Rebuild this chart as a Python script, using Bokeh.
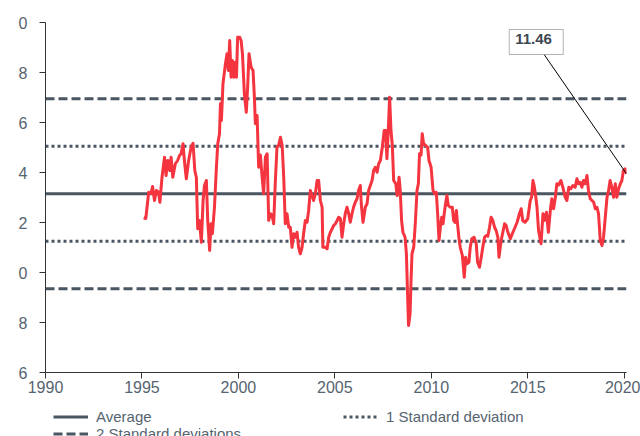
from bokeh.plotting import figure
from bokeh.layouts import column
from bokeh.models import Range1d, FixedTicker, Legend, LegendItem, Label, BoxAnnotation
from bokeh.embed import file_html
from bokeh.resources import INLINE

# ---------------- data ----------------
years = [
    1995.09, 1995.20, 1995.35, 1995.47, 1995.55, 1995.65, 1995.75, 1995.86, 1995.93,
    1996.04, 1996.17, 1996.25, 1996.34, 1996.44, 1996.51, 1996.60, 1996.73, 1996.85, 1996.95,
    1997.03, 1997.13, 1997.20, 1997.30, 1997.42, 1997.55, 1997.65, 1997.74, 1997.82, 1997.89, 1997.98,
    1998.08, 1998.17, 1998.24, 1998.34, 1998.41, 1998.51, 1998.58, 1998.65, 1998.76, 1998.86, 1998.93,
    1999.02, 1999.07, 1999.12, 1999.20, 1999.33, 1999.41, 1999.48, 1999.55, 1999.62, 1999.69, 1999.76,
    1999.84, 1999.90, 1999.96, 2000.07, 2000.14, 2000.21, 2000.31, 2000.41, 2000.48, 2000.55, 2000.66,
    2000.76, 2000.83, 2000.88, 2000.97, 2001.05, 2001.14, 2001.23, 2001.31, 2001.40, 2001.49, 2001.57,
    2001.66, 2001.74, 2001.83, 2001.91, 2002.00, 2002.09, 2002.18, 2002.27, 2002.35, 2002.43, 2002.52,
    2002.61, 2002.69, 2002.78, 2002.87, 2002.95, 2003.04, 2003.12, 2003.21, 2003.30, 2003.38, 2003.47,
    2003.56, 2003.64, 2003.73, 2003.82, 2003.90, 2003.99, 2004.08, 2004.16, 2004.25, 2004.34, 2004.38,
    2004.51, 2004.60, 2004.68, 2004.77, 2004.86, 2004.94, 2005.03, 2005.12, 2005.20, 2005.29, 2005.37,
    2005.46, 2005.54, 2005.63, 2005.72, 2005.80, 2005.89, 2005.97, 2006.06, 2006.15, 2006.23, 2006.32,
    2006.37, 2006.46, 2006.58, 2006.67, 2006.75, 2006.84, 2006.93, 2007.01, 2007.10, 2007.19, 2007.27,
    2007.36, 2007.46, 2007.56, 2007.63, 2007.70, 2007.77, 2007.84, 2007.91, 2007.98, 2008.05, 2008.16,
    2008.23, 2008.33, 2008.39, 2008.46, 2008.53, 2008.64, 2008.71, 2008.77, 2008.82, 2008.90, 2008.95,
    2009.00, 2009.09, 2009.17, 2009.26, 2009.33, 2009.39, 2009.47, 2009.53, 2009.60, 2009.71, 2009.81,
    2009.88, 2009.99, 2010.09, 2010.18, 2010.26, 2010.33, 2010.40, 2010.47, 2010.54, 2010.61, 2010.67,
    2010.74, 2010.81, 2010.88, 2010.98, 2011.09, 2011.16, 2011.23, 2011.30, 2011.36, 2011.43, 2011.50,
    2011.61, 2011.71, 2011.78, 2011.85, 2011.95, 2012.02, 2012.10, 2012.22, 2012.33, 2012.40, 2012.50,
    2012.59, 2012.67, 2012.76, 2012.85, 2012.93, 2013.02, 2013.10, 2013.19, 2013.28, 2013.36, 2013.45,
    2013.51, 2013.62, 2013.71, 2013.80, 2013.88, 2013.97, 2014.10, 2014.23, 2014.31, 2014.45, 2014.57,
    2014.66, 2014.74, 2014.86, 2015.00, 2015.13, 2015.20, 2015.27, 2015.33, 2015.42, 2015.48, 2015.56,
    2015.69, 2015.79, 2015.86, 2015.97, 2016.07, 2016.17, 2016.25, 2016.34, 2016.42, 2016.51, 2016.60,
    2016.72, 2016.82, 2016.94, 2017.03, 2017.13, 2017.23, 2017.34, 2017.46, 2017.55, 2017.63, 2017.72,
    2017.81, 2017.89, 2017.98, 2018.07, 2018.15, 2018.24, 2018.33, 2018.42, 2018.50, 2018.59, 2018.67,
    2018.76, 2018.85, 2018.93, 2019.02, 2019.11, 2019.19, 2019.27, 2019.36, 2019.45, 2019.54, 2019.62,
    2019.71, 2019.80, 2019.88, 2019.96, 2020.05, 2020.12,
]
values = [
    12.19, 12.16, 13.21, 13.16, 13.44, 12.88, 13.28, 13.21, 12.81,
    13.81, 14.61, 13.88, 14.48, 14.08, 14.61, 13.81, 14.35, 14.48, 14.68,
    14.75, 15.15, 14.48, 13.75, 14.48, 15.01, 15.17, 14.08, 13.81, 11.75, 12.08,
    11.21, 12.88, 13.48, 13.68, 12.08, 10.88, 11.95, 11.55, 12.61, 14.21, 15.15,
    15.55, 16.75, 16.08, 17.55, 18.35, 18.75, 18.08, 19.28, 17.81, 18.48, 17.81,
    18.41, 17.81, 19.41, 19.41, 19.28, 18.75, 17.15, 16.41, 17.41, 18.75, 18.21,
    18.08, 17.00, 15.95, 16.28, 14.21, 14.70, 13.81, 13.15, 14.61, 14.75, 12.08,
    12.35, 12.30, 11.95, 13.55, 15.01, 15.10, 15.41, 15.08, 13.81, 11.95, 12.35,
    11.81, 11.81, 11.01, 11.55, 11.41, 11.61, 11.01, 10.75, 11.01, 11.55, 12.08,
    12.01, 12.48, 13.28, 13.08, 12.88, 13.15, 13.68, 13.68, 12.88, 12.61, 11.01,
    11.01, 10.95, 11.41, 11.61, 11.75, 11.88, 11.95, 12.08, 12.21, 12.15, 11.41,
    11.95, 12.35, 12.61, 12.35, 12.01, 12.35, 12.61, 12.81, 12.95, 13.28, 13.48,
    12.75, 12.01, 12.61, 12.75, 13.28, 13.48, 13.68, 14.08, 14.21, 14.01, 14.35,
    14.48, 15.01, 15.68, 15.68, 14.55, 15.68, 17.01, 15.68, 15.08, 13.68, 13.55,
    13.08, 13.81, 13.28, 12.08, 11.61, 11.41, 10.75, 9.15, 7.88, 8.35, 9.68,
    10.75, 11.01, 11.95, 13.28, 13.55, 14.75, 14.70, 15.55, 15.15, 15.08, 15.01,
    14.48, 14.21, 13.28, 13.15, 13.21, 12.35, 11.28, 11.81, 12.21, 11.95, 12.35,
    12.75, 13.08, 12.68, 12.61, 12.61, 12.08, 12.00, 12.48, 11.95, 11.41, 11.01,
    10.68, 9.81, 10.61, 10.35, 10.41, 11.01, 11.35, 11.41, 11.15, 10.41, 10.21,
    10.61, 11.01, 11.41, 11.48, 11.45, 11.81, 12.21, 12.08, 11.81, 11.68, 11.41,
    10.61, 11.28, 11.61, 11.95, 11.88, 11.61, 11.35, 11.61, 11.75, 12.01, 12.35,
    12.55, 12.08, 12.01, 12.15, 12.88, 13.01, 13.68, 13.48, 13.01, 12.61, 11.68,
    11.15, 12.35, 12.08, 12.41, 11.61, 12.48, 12.95, 12.55, 12.95, 13.55, 13.50,
    13.68, 13.41, 13.01, 12.88, 13.41, 13.35, 13.48, 13.41, 13.75, 13.55, 13.61,
    13.41, 13.68, 13.55, 13.88, 13.28, 12.95, 12.88, 12.81, 12.55, 12.61, 12.35,
    11.28, 11.08, 11.41, 12.21, 13.01, 13.28, 13.68, 13.41, 13.01, 13.55, 13.01,
    13.35, 13.55, 13.68, 14.08, 14.15, 13.95,
]
average = 13.15
std_dev = 1.9
x_ticks = [1990, 1995, 2000, 2005, 2010, 2015, 2020]
y_ticks = [6, 8, 10, 12, 14, 16, 18, 20]
y_tick_labels = ["6", "8", "0", "2", "4", "6", "8", "0"]
callout_text = "11.46"
legend_labels = ["Average", "1 Standard deviation", "2 Standard deviations"]

# ---------------- styling ----------------
FONT = "Liberation Sans"
TXT = "#566470"
REF = "#4a5661"
RED = "#f4343e"
X0, X1 = 1990, 2020.12
STYLE_AVG = dict(line_color=REF, line_width=3)
STYLE_SD1 = dict(line_color=REF, line_width=3, line_dash="3 3")
STYLE_SD2 = dict(line_color=REF, line_width=3, line_dash="9 4")

p = figure(width=640, height=402, output_backend="svg", toolbar_location=None,
           x_range=Range1d(X0, X1), y_range=Range1d(6, 20),
           min_border_left=45, min_border_right=14, min_border_top=22, min_border_bottom=30)
p.xgrid.visible = False
p.ygrid.visible = False
p.outline_line_color = None

for ax in (p.xaxis[0], p.yaxis[0]):
    ax.axis_line_color = "#333333"
    ax.axis_line_width = 1
    ax.major_tick_line_color = "#333333"
    ax.minor_tick_line_color = None
    ax.major_tick_in = 0
    ax.major_tick_out = 6
    ax.major_label_text_font = FONT
    ax.major_label_text_font_size = "16px"
    ax.major_label_text_color = TXT

p.xaxis.ticker = FixedTicker(ticks=x_ticks)
p.xaxis.major_label_standoff = 2
p.yaxis.ticker = FixedTicker(ticks=y_ticks)
p.yaxis.major_label_overrides = {t: l for t, l in zip(y_ticks, y_tick_labels)}
p.yaxis.major_label_standoff = 12

# reference lines
p.line([X0, X1], [average, average], **STYLE_AVG)
p.line([X0, X1], [average + std_dev] * 2, **STYLE_SD1)
p.line([X0, X1], [average - std_dev] * 2, **STYLE_SD1)
p.line([X0, X1], [average + 2 * std_dev] * 2, **STYLE_SD2)
p.line([X0, X1], [average - 2 * std_dev] * 2, **STYLE_SD2)

# main series
p.line(years, values, line_color=RED, line_width=3, line_join="round")

# callout
box = BoxAnnotation(left=2014.04, right=2016.84, bottom=18.72, top=19.72,
                    fill_color="white", fill_alpha=1.0, line_color="black", line_width=1)
p.add_layout(box)
p.segment(x0=[2015.85], y0=[18.72], x1=[years[-1]], y1=[values[-1]],
          line_color="black", line_width=1)
p.add_layout(Label(x=2014.35, y=19.35, text=callout_text, text_font=FONT,
                   text_font_size="15px", text_font_style="bold",
                   text_color="#3d4852", text_baseline="middle"))

# ---------------- legend strip (frame aligned with the chart frame) ----------------
lg = figure(width=640, height=34, output_backend="svg", toolbar_location=None,
            x_range=Range1d(0, 1), y_range=Range1d(0, 1),
            x_axis_type=None, y_axis_type=None,
            min_border_left=45, min_border_right=14, min_border_top=0, min_border_bottom=0)
lg.outline_line_color = None
lg.xgrid.visible = False
lg.ygrid.visible = False
# invisible proxy renderers (outside the visible range) that carry the legend styles
r_avg = lg.line(x=[-2, -1], y=[-2, -1], **STYLE_AVG)
r_sd1 = lg.line(x=[-2, -1], y=[-2, -1], **STYLE_SD1)
r_sd2 = lg.line(x=[-2, -1], y=[-2, -1], **STYLE_SD2)


def make_legend(items, loc):
    return Legend(items=items, location=loc, orientation="vertical",
                  border_line_color=None, background_fill_alpha=0.0,
                  padding=0, margin=0, spacing=0,
                  glyph_width=35, glyph_height=17, label_height=17, label_standoff=8,
                  label_text_font=FONT, label_text_font_size="15px", label_text_color=TXT)


lg.add_layout(make_legend([LegendItem(label=legend_labels[0], renderers=[r_avg]),
                           LegendItem(label=legend_labels[2], renderers=[r_sd2])], (8, -5.5)))
lg.add_layout(make_legend([LegendItem(label=legend_labels[1], renderers=[r_sd1])], (298, 11.5)))

layout = column(p, lg, spacing=0)
open("out.html", "w").write(file_html(layout, INLINE))
